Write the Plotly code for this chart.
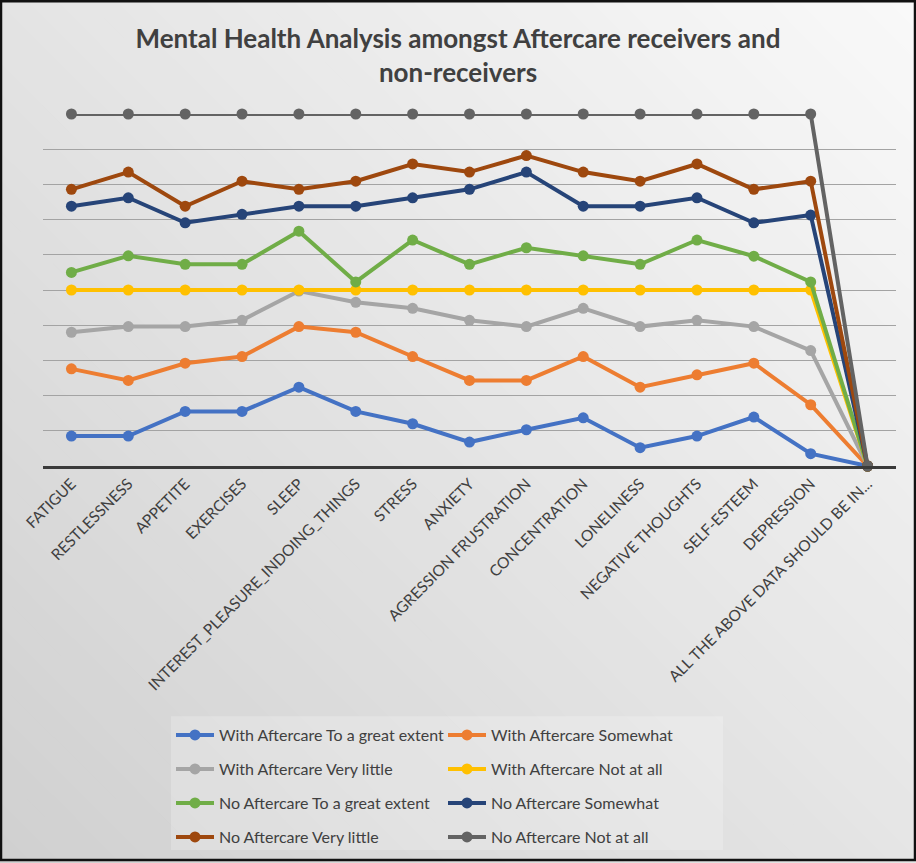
import plotly.graph_objects as go

# ---- data -------------------------------------------------------------
categories = [
    "FATIGUE", "RESTLESSNESS", "APPETITE", "EXERCISES", "SLEEP",
    "INTEREST_PLEASURE_INDOING_THINGS", "STRESS", "ANXIETY",
    "AGRESSION FRUSTRATION", "CONCENTRATION", "LONELINESS",
    "NEGATIVE THOUGHTS", "SELF-ESTEEM", "DEPRESSION",
    "ALL THE ABOVE DATA SHOULD BE IN...",
]

with_great_extent = [0.85, 0.85, 1.55, 1.55, 2.24, 1.55, 1.20, 0.68, 1.03, 1.37, 0.52, 0.85, 1.39, 0.35, 0]
with_somewhat = [2.76, 2.43, 2.92, 3.11, 3.96, 3.80, 3.11, 2.43, 2.43, 3.11, 2.24, 2.59, 2.92, 1.74, 0]
with_very_little = [3.80, 3.96, 3.96, 4.14, 4.97, 4.65, 4.48, 4.14, 3.96, 4.48, 3.96, 4.14, 3.96, 3.28, 0]
with_not_at_all = [5, 5, 5, 5, 5, 5, 5, 5, 5, 5, 5, 5, 5, 5, 0]
no_great_extent = [5.50, 5.97, 5.73, 5.73, 6.67, 5.23, 6.42, 5.73, 6.20, 5.97, 5.73, 6.42, 5.96, 5.23, 0]
no_somewhat = [7.38, 7.62, 6.91, 7.15, 7.38, 7.38, 7.62, 7.86, 8.35, 7.38, 7.38, 7.62, 6.91, 7.13, 0]
no_very_little = [7.86, 8.35, 7.38, 8.09, 7.86, 8.09, 8.58, 8.35, 8.82, 8.35, 8.09, 8.58, 7.86, 8.09, 0]
no_not_at_all = [10, 10, 10, 10, 10, 10, 10, 10, 10, 10, 10, 10, 10, 10, 0]

series_names = [
    "With Aftercare To a great extent", "With Aftercare Somewhat",
    "With Aftercare Very little", "With Aftercare Not at all",
    "No Aftercare To a great extent", "No Aftercare Somewhat",
    "No Aftercare Very little", "No Aftercare Not at all",
]
series_values = [
    with_great_extent, with_somewhat, with_very_little, with_not_at_all,
    no_great_extent, no_somewhat, no_very_little, no_not_at_all,
]
series_colors = [
    "#4472C4", "#ED7D31", "#A5A5A5", "#FFC000",
    "#70AD47", "#264478", "#9E480E", "#636363",
]

# ---- geometry helpers (canvas pixels -> paper coords) ----------------
W_PX, H_PX = 916, 863
M_L, M_R, M_T, M_B = 43, 20, 114, 396
PW = W_PX - M_L - M_R
PH = H_PX - M_T - M_B


def xp(px):
    return (px - M_L) / PW


def yp(py):
    return (H_PX - M_B - py) / PH


FONT = "Lato"
TEXT = "#404040"

fig = go.Figure()

legend_ids = ["legend", "legend", "legend2", "legend2",
              "legend3", "legend3", "legend4", "legend4"]

for name, vals, col, lg in zip(series_names, series_values, series_colors, legend_ids):
    fig.add_trace(go.Scatter(
        x=categories, y=vals, name=name, mode="lines+markers",
        line=dict(color=col, width=4),
        marker=dict(color=col, size=11),
        cliponaxis=False, legend=lg,
    ))

# ---- background: diagonal light gradient ------------------------------
shapes = []
n_bands = 60
span = W_PX + H_PX
c_top, c_bot = 249, 208
for i in range(n_bands):
    s0 = span * i / n_bands
    s1 = span * (i + 1) / n_bands + 2
    t = (i + 0.5) / n_bands
    g = int(round(c_top + (c_bot - c_top) * t))
    pts = [
        (W_PX - s0 - 200, -200), (W_PX - s0 + 1100, 1100),
        (W_PX - s1 + 1100, 1100), (W_PX - s1 - 200, -200),
    ]
    path = "M " + " L ".join(f"{xp(a):.5f},{yp(b):.5f}" for a, b in pts) + " Z"
    shapes.append(dict(type="path", xref="paper", yref="paper", path=path,
                       fillcolor=f"rgb({g},{g},{g})", line=dict(width=0),
                       layer="below"))

# legend panel
shapes.append(dict(type="rect", xref="paper", yref="paper",
                   x0=xp(171), x1=xp(723), y0=yp(718), y1=yp(852),
                   fillcolor="rgba(255,255,255,0.22)", line=dict(width=0),
                   layer="below"))
# outer frame
shapes.append(dict(type="rect", xref="paper", yref="paper",
                   x0=xp(1), x1=xp(W_PX - 1), y0=yp(1), y1=yp(H_PX - 1),
                   line=dict(color="#111111", width=2.5), layer="above"))

legend_rows_y = [735, 769, 803, 837]
legend_common = dict(orientation="h", xanchor="left", yanchor="middle",
                     bgcolor="rgba(0,0,0,0)", itemwidth=38, entrywidth=219,
                     font=dict(family=FONT, size=16, color=TEXT))

fig.update_layout(
    width=W_PX, height=H_PX,
    margin=dict(l=M_L, r=M_R, t=M_T, b=M_B),
    paper_bgcolor="#e6e6e6", plot_bgcolor="rgba(0,0,0,0)",
    title=dict(
        text="<b>Mental Health Analysis amongst Aftercare receivers and<br>non-receivers</b>",
        x=0.5, xref="container", xanchor="center",
        y=1 - 48 / H_PX, yref="container", yanchor="middle",
        font=dict(family=FONT, size=26, color="#404040"),
    ),
    xaxis=dict(
        type="category", range=[-0.5, len(categories) - 0.5],
        showline=True, linecolor="#3a3a3a", linewidth=2.5,
        showgrid=False, ticks="", tickangle=-45,
        tickfont=dict(family=FONT, size=15.5, color=TEXT),
    ),
    yaxis=dict(
        range=[0, 10], dtick=1, showticklabels=False, zeroline=False,
        showgrid=True, gridcolor="#a3a3a3", gridwidth=1,
    ),
    shapes=shapes,
    legend=dict(x=xp(171), y=yp(legend_rows_y[0]), **legend_common),
    legend2=dict(x=xp(171), y=yp(legend_rows_y[1]), **legend_common),
    legend3=dict(x=xp(171), y=yp(legend_rows_y[2]), **legend_common),
    legend4=dict(x=xp(171), y=yp(legend_rows_y[3]), **legend_common),
)

fig.write_html("out.html")
